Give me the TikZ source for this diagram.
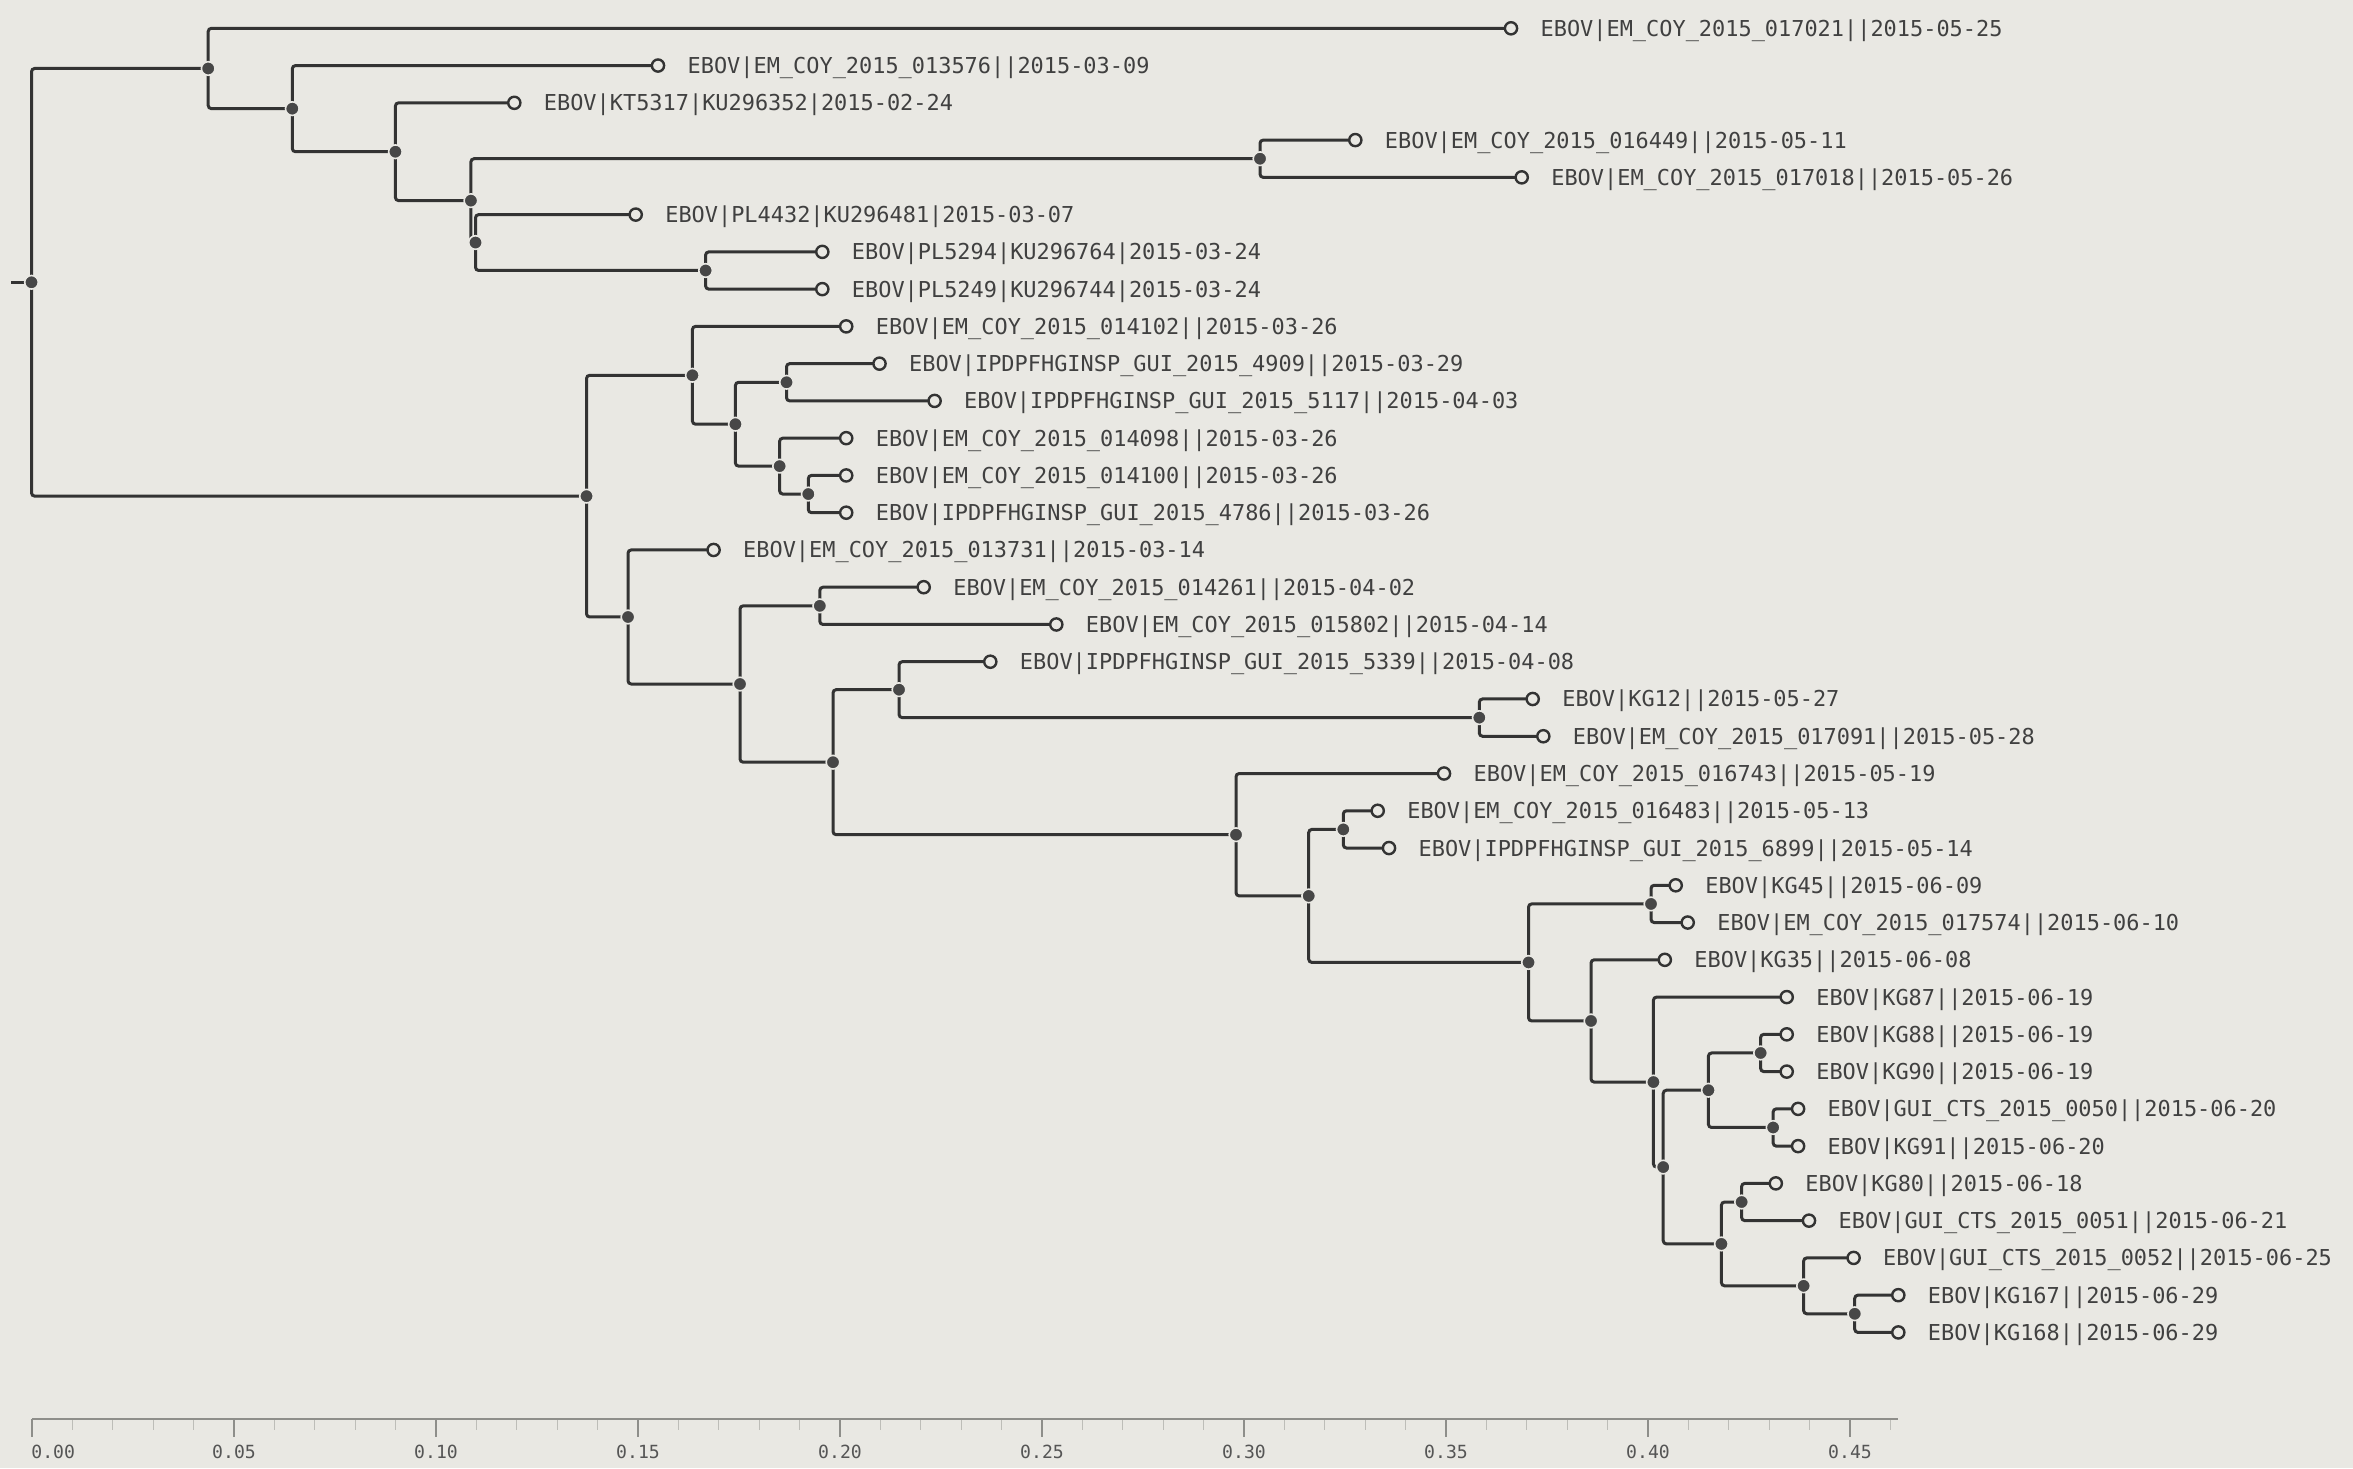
\documentclass[tikz,border=0pt]{standalone}
\usepackage{fontspec}
\newfontfamily\labfont{DejaVu Sans Mono}
\usetikzlibrary{backgrounds}
\definecolor{bgc}{HTML}{E9E8E3}
\definecolor{linec}{HTML}{333333}
\definecolor{dotc}{HTML}{474747}
\definecolor{txtc}{HTML}{404040}
\definecolor{axc}{HTML}{8E8E8A}
\definecolor{minc}{HTML}{BDBDB8}
\definecolor{axtxt}{HTML}{555555}
\tikzset{
  branch/.style={draw=linec, line width=1.5pt, rounded corners=1.6pt},
  dotnode/.style={circle, inner sep=0pt, minimum size=6.8pt, fill=dotc, draw=bgc, line width=0.8pt},
  leafnode/.style={circle, inner sep=0pt, minimum size=6.1pt, fill=bgc, draw=linec, line width=1.2pt},
  lab/.style={anchor=base west, inner sep=0pt, text=txtc, font=\labfont\fontsize{10.96}{13}\selectfont},
  axisline/.style={draw=axc, line width=1pt},
  majtick/.style={draw=axc, line width=0.7pt},
  mintick/.style={draw=minc, line width=0.6pt},
  axlab/.style={inner sep=0pt, text=axtxt, font=\labfont\fontsize{9.05}{11}\selectfont}
}
\newcommand\inode[3]{\node[dotnode] (#1) at (#2,{ly(#3)}) {};}
\newcommand\lnode[4]{\node[leafnode] (#1) at (#2,{ly(#3)}) {};
  \node[lab] (t#1) at ([xshift=14.6pt,yshift=-4pt]#1.center) {#4};}
\newcommand\br[3]{\draw[branch] (#2.center) -| (#1.center) |- (#3.center);}
\begin{document}
\begin{tikzpicture}[x=0.5pt,y=-0.5pt,declare function={ly(\i)=-8.96+37.26*\i;}]
\useasboundingbox (0,0) rectangle (2353,1468);
\begin{pgfonlayer}{background}
\fill[bgc] (0,0) rectangle (2353,1468);
\end{pgfonlayer}

% internal nodes
\inode{R}{31.5}{7.8170}
\inode{A}{208.2}{2.078125}
\inode{C}{292.3}{3.15625}
\inode{D}{395.4}{4.3125}
\inode{E}{470.9}{5.625}
\inode{F}{1260}{4.5}
\inode{G}{475.5}{6.75}
\inode{H}{705.6}{7.5}
\inode{B}{586.5}{13.5558}
\inode{I}{692.4}{10.3125}
\inode{K}{735.4}{11.625}
\inode{L}{786.5}{10.5}
\inode{M}{779.6}{12.75}
\inode{N}{808.3}{13.5}
\inode{J}{628}{16.7991}
\inode{O}{740}{18.5981}
\inode{P}{819.8}{16.5}
\inode{Q}{833}{20.6963}
\inode{S}{899}{18.75}
\inode{U}{1479.3}{19.5}
\inode{T}{1236}{22.6426}
\inode{V}{1308.7}{24.2852}
\inode{W}{1343.3}{22.5}
\inode{X}{1528.5}{26.0703}
\inode{Y}{1651}{24.5}
\inode{Z}{1591}{27.640625}
\inode{AA}{1653.4}{29.28125}
\inode{AB}{1663.2}{31.5625}
\inode{AC}{1708.4}{29.5}
\inode{AE}{1760.6}{28.5}
\inode{AF}{1773.1}{30.5}
\inode{AD}{1721.4}{33.625}
\inode{AG}{1741.6}{32.5}
\inode{AH}{1803.6}{34.75}
\inode{AI}{1854.7}{35.5}

% leaves
\lnode{l1}{1511}{1}{EBOV|EM\_COY\_2015\_017021||2015-05-25}
\lnode{l2}{658}{2}{EBOV|EM\_COY\_2015\_013576||2015-03-09}
\lnode{l3}{514.3}{3}{EBOV|KT5317|KU296352|2015-02-24}
\lnode{l4}{1355.3}{4}{EBOV|EM\_COY\_2015\_016449||2015-05-11}
\lnode{l5}{1521.7}{5}{EBOV|EM\_COY\_2015\_017018||2015-05-26}
\lnode{l6}{635.7}{6}{EBOV|PL4432|KU296481|2015-03-07}
\lnode{l7}{822.3}{7}{EBOV|PL5294|KU296764|2015-03-24}
\lnode{l8}{822.3}{8}{EBOV|PL5249|KU296744|2015-03-24}
\lnode{l9}{846.2}{9}{EBOV|EM\_COY\_2015\_014102||2015-03-26}
\lnode{l10}{879.5}{10}{EBOV|IPDPFHGINSP\_GUI\_2015\_4909||2015-03-29}
\lnode{l11}{934.6}{11}{EBOV|IPDPFHGINSP\_GUI\_2015\_5117||2015-04-03}
\lnode{l12}{846.2}{12}{EBOV|EM\_COY\_2015\_014098||2015-03-26}
\lnode{l13}{846.2}{13}{EBOV|EM\_COY\_2015\_014100||2015-03-26}
\lnode{l14}{846.2}{14}{EBOV|IPDPFHGINSP\_GUI\_2015\_4786||2015-03-26}
\lnode{l15}{713.6}{15}{EBOV|EM\_COY\_2015\_013731||2015-03-14}
\lnode{l16}{923.7}{16}{EBOV|EM\_COY\_2015\_014261||2015-04-02}
\lnode{l17}{1056.3}{17}{EBOV|EM\_COY\_2015\_015802||2015-04-14}
\lnode{l18}{990.3}{18}{EBOV|IPDPFHGINSP\_GUI\_2015\_5339||2015-04-08}
\lnode{l19}{1532.7}{19}{EBOV|KG12||2015-05-27}
\lnode{l20}{1543.3}{20}{EBOV|EM\_COY\_2015\_017091||2015-05-28}
\lnode{l21}{1444}{21}{EBOV|EM\_COY\_2015\_016743||2015-05-19}
\lnode{l22}{1377.7}{22}{EBOV|EM\_COY\_2015\_016483||2015-05-13}
\lnode{l23}{1389}{23}{EBOV|IPDPFHGINSP\_GUI\_2015\_6899||2015-05-14}
\lnode{l24}{1675.7}{24}{EBOV|KG45||2015-06-09}
\lnode{l25}{1687.7}{25}{EBOV|EM\_COY\_2015\_017574||2015-06-10}
\lnode{l26}{1664.8}{26}{EBOV|KG35||2015-06-08}
\lnode{l27}{1786.7}{27}{EBOV|KG87||2015-06-19}
\lnode{l28}{1786.7}{28}{EBOV|KG88||2015-06-19}
\lnode{l29}{1786.7}{29}{EBOV|KG90||2015-06-19}
\lnode{l30}{1798.1}{30}{EBOV|GUI\_CTS\_2015\_0050||2015-06-20}
\lnode{l31}{1798.1}{31}{EBOV|KG91||2015-06-20}
\lnode{l32}{1775.8}{32}{EBOV|KG80||2015-06-18}
\lnode{l33}{1809}{33}{EBOV|GUI\_CTS\_2015\_0051||2015-06-21}
\lnode{l34}{1853.6}{34}{EBOV|GUI\_CTS\_2015\_0052||2015-06-25}
\lnode{l35}{1898.3}{35}{EBOV|KG167||2015-06-29}
\lnode{l36}{1898.3}{36}{EBOV|KG168||2015-06-29}

\coordinate (stub) at (11,{ly(7.8170)});

\begin{pgfonlayer}{background}
\draw[branch] (stub) -- (R.center);
\br{R}{A}{B}
\br{A}{l1}{C}
\br{C}{l2}{D}
\br{D}{l3}{E}
\br{E}{F}{G}
\br{F}{l4}{l5}
\br{G}{l6}{H}
\br{H}{l7}{l8}
\br{B}{I}{J}
\br{I}{l9}{K}
\br{K}{L}{M}
\br{L}{l10}{l11}
\br{M}{l12}{N}
\br{N}{l13}{l14}
\br{J}{l15}{O}
\br{O}{P}{Q}
\br{P}{l16}{l17}
\br{Q}{S}{T}
\br{S}{l18}{U}
\br{U}{l19}{l20}
\br{T}{l21}{V}
\br{V}{W}{X}
\br{W}{l22}{l23}
\br{X}{Y}{Z}
\br{Y}{l24}{l25}
\br{Z}{l26}{AA}
\br{AA}{l27}{AB}
\br{AB}{AC}{AD}
\br{AC}{AE}{AF}
\br{AE}{l28}{l29}
\br{AF}{l30}{l31}
\br{AD}{AG}{AH}
\br{AG}{l32}{l33}
\br{AH}{l34}{AI}
\br{AI}{l35}{l36}
\end{pgfonlayer}

% axis
\coordinate (axL) at (32,1419);
\coordinate (axR) at (1898,1419);
\foreach \i in {0,...,46}{
  \pgfmathtruncatemacro\mm{mod(\i,5)}
  \ifnum\mm=0
    \draw[majtick] (32+40.4*\i,1419) -- (32+40.4*\i,1437);
  \else
    \draw[mintick] (32+40.4*\i,1419) -- (32+40.4*\i,1430);
  \fi
}
\draw[axisline] (axL) -- (axR);
\node[axlab, anchor=base west] (ax0) at (31,1458) {0.00};
\foreach \i/\t in {1/0.05,2/0.10,3/0.15,4/0.20,5/0.25,6/0.30,7/0.35,8/0.40,9/0.45}{
  \node[axlab, anchor=base] (ax\i) at (32+202*\i,1458) {\t};
}
\end{tikzpicture}
\end{document}
